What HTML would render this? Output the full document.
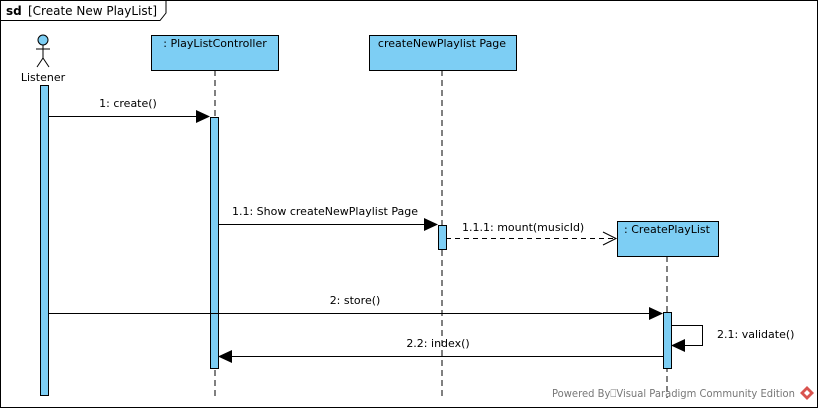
<!DOCTYPE html>
<html><head><style>body{margin:0;background:#fff}svg{display:block}text{font-family:"DejaVu Sans","Liberation Sans",sans-serif;font-size:11px;fill:#000}</style></head>
<body>
<svg width="820" height="410" viewBox="0 0 820 410" xmlns="http://www.w3.org/2000/svg">
<rect x="0.5" y="0.5" width="817" height="407" fill="#fff" stroke="#000"/>
<path d="M0.5 20.5 H160 L166 13 V0.5" fill="none" stroke="#000"/>
<text x="6" y="15" style="font-weight:bold;font-size:12px">sd</text>
<text x="28" y="15" style="font-size:12px">[Create New PlayList]</text>
<!-- actor -->
<circle cx="43" cy="40" r="5" fill="#7dcef4" stroke="#000"/>
<line x1="43" y1="45" x2="43" y2="58" stroke="#000"/>
<line x1="36" y1="49" x2="50" y2="49" stroke="#000"/>
<line x1="43" y1="58" x2="37" y2="67" stroke="#000"/>
<line x1="43" y1="58" x2="49" y2="67" stroke="#000"/>
<text x="43" y="81" text-anchor="middle">Listener</text>
<!-- lifelines -->
<g stroke="#000" stroke-dasharray="6,4">
<line x1="215" y1="70" x2="215" y2="398"/>
<line x1="442" y1="70" x2="442" y2="398"/>
<line x1="667" y1="256" x2="667" y2="398"/>
</g>
<g fill="#7dcef4" stroke="#000">
<rect x="151.5" y="35.5" width="127" height="35"/>
<rect x="369.5" y="35.5" width="147" height="35"/>
<rect x="617.5" y="221.5" width="101" height="35"/>
<rect x="40.5" y="85.5" width="8" height="310"/>
<rect x="210.5" y="117.5" width="8" height="251"/>
<rect x="438.5" y="225.5" width="8" height="24"/>
<rect x="663.5" y="312.5" width="8" height="56"/>
</g>
<text x="215" y="47" text-anchor="middle">: PlayListController</text>
<text x="442" y="47" text-anchor="middle">createNewPlaylist Page</text>
<text x="667" y="233" text-anchor="middle">: CreatePlayList</text>
<!-- messages -->
<g stroke="#000">
<line x1="48" y1="116.5" x2="198" y2="116.5"/>
<line x1="218" y1="224.5" x2="426" y2="224.5"/>
<line x1="446" y1="238.5" x2="616" y2="238.5" stroke-dasharray="5,4"/>
<polyline points="603,232 616,238.5 603,245" fill="none"/>
<line x1="48" y1="313.5" x2="651" y2="313.5"/>
<polyline points="671,325.5 702.5,325.5 702.5,345.5 684,345.5" fill="none"/>
<line x1="663" y1="356.5" x2="231" y2="356.5"/>
</g>
<g fill="#000">
<polygon points="196,110 210,116.5 196,123"/>
<polygon points="424,218 438,224.5 424,231"/>
<polygon points="649,307 663,313.5 649,320"/>
<polygon points="685,339 671,345.5 685,352"/>
<polygon points="232,350 218,356.5 232,363"/>
</g>
<text x="128" y="107" text-anchor="middle">1: create()</text>
<text x="325" y="215" text-anchor="middle">1.1: Show createNewPlaylist Page</text>
<text x="462" y="231">1.1.1: mount(musicId)</text>
<text x="355" y="304" text-anchor="middle">2: store()</text>
<text x="717" y="338">2.1: validate()</text>
<text x="438" y="347" text-anchor="middle">2.2: index()</text>
<text x="552" y="397" textLength="243" lengthAdjust="spacingAndGlyphs" style="font-size:10.5px;fill:#777">Powered By⎕Visual Paradigm Community Edition</text>
<polygon points="807,386 814,393 807,400 800,393" fill="#d9534f"/>
<polygon points="807,390 810,393 807,396 804,393" fill="#fff"/>
</svg>
</body></html>
